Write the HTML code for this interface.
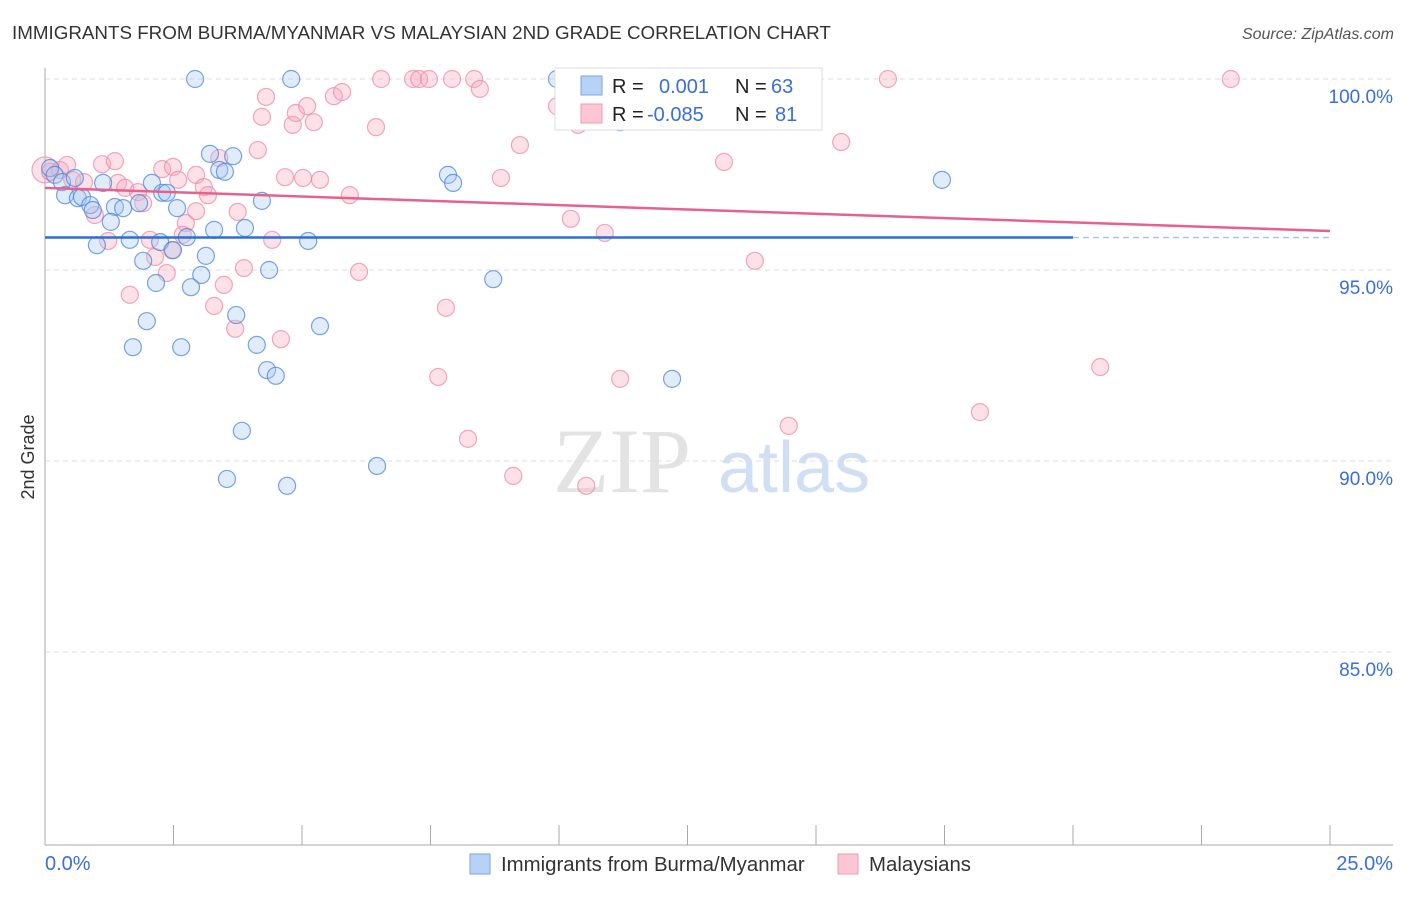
<!DOCTYPE html>
<html><head><meta charset="utf-8"><style>
body{margin:0;background:#fff;font-family:"Liberation Sans",sans-serif;}
</style></head><body>
<svg id="chart" width="1406" height="892" xmlns="http://www.w3.org/2000/svg" style="font-family:'Liberation Sans',sans-serif">
<text x="12" y="39" font-size="18.8" fill="#333">IMMIGRANTS FROM BURMA/MYANMAR VS MALAYSIAN 2ND GRADE CORRELATION CHART</text>
<text x="1394" y="39" font-size="16" fill="#555" text-anchor="end" font-style="italic">Source: ZipAtlas.com</text>
<g>
<text x="553" y="492" font-size="92" fill="#ddd" font-family="Liberation Serif,serif" opacity="0.8">ZIP</text>
<text x="718" y="492" font-size="72" fill="#c5d8f2" opacity="0.8">atlas</text>
</g>
<g id="grid"></g>
<g id="axes"></g>
<g id="marks"></g>
<text transform="translate(34,457) rotate(-90)" font-size="18" fill="#333" text-anchor="middle">2nd Grade</text>
<g>
<rect x="555" y="68" width="267" height="62" fill="#fff" stroke="#ddd"/>
<rect x="581" y="76" width="21" height="19" fill="#b8d2f6" stroke="#7aa6e6"/>
<rect x="581" y="104" width="21" height="19" fill="#fcc6d5" stroke="#ef9ab3"/>
<text x="612" y="93" font-size="20" fill="#222">R = </text>
<text x="659" y="93" font-size="20" fill="#3a6fd8">0.001</text>
<text x="735" y="93" font-size="20" fill="#222">N = </text>
<text x="771" y="93" font-size="20" fill="#3a6fd8">63</text>
<text x="612" y="121" font-size="20" fill="#222">R = </text>
<text x="647" y="121" font-size="20" fill="#3a6fd8">-0.085</text>
<text x="735" y="121" font-size="20" fill="#222">N = </text>
<text x="775" y="121" font-size="20" fill="#3a6fd8">81</text>
</g>
<g>
<rect x="470" y="854" width="20" height="20" fill="#b8d2f6" stroke="#7aa6e6"/>
<text x="501" y="871" font-size="20.4" fill="#333">Immigrants from Burma/Myanmar</text>
<rect x="838" y="854" width="20" height="20" fill="#fcc6d5" stroke="#ef9ab3"/>
<text x="869" y="871" font-size="20.4" fill="#333">Malaysians</text>
</g>
</svg>
<script>
const yTicks=[100,95,90,85];
const yTickLabels=["100.0%","95.0%","90.0%","85.0%"];
const xTickLabels=["0.0%","25.0%"];
const blueX=[2.92,4.79,9.96,11.19,3.21,3.66,3.39,3.50,7.84,7.94,17.45,0.10,0.19,0.33,0.58,1.13,0.39,0.64,0.72,0.88,0.93,1.36,1.52,1.28,2.08,2.28,2.37,1.83,2.57,4.22,1.01,1.65,2.24,2.49,2.76,3.29,3.89,5.12,4.36,3.13,3.04,1.91,2.16,2.84,8.72,3.72,1.98,5.35,1.71,2.65,4.12,4.32,4.49,12.20,3.83,6.46,3.54,4.71];
const blueY=[100,100,100,98.87,98.04,97.98,97.62,97.57,97.49,97.28,97.36,97.67,97.49,97.30,97.41,97.28,96.96,96.88,96.91,96.70,96.57,96.65,96.62,96.26,97.28,97.02,97.02,96.75,96.62,96.81,95.65,95.79,95.73,95.52,95.86,96.05,96.10,95.76,95.00,95.37,94.87,95.24,94.66,94.55,94.76,93.82,93.66,93.53,92.98,92.98,93.04,92.38,92.23,92.15,90.79,89.87,89.53,89.35];
const pinkX=[0,0.10,0.29,0.43,0.53,0.76,1.11,1.36,1.42,1.56,1.81,1.91,2.28,2.49,2.59,2.94,3.09,3.39,3.17,2.94,2.74,2.68,2.47,2.04,2.14,2.37,1.65,1.23,0.97,4.30,4.22,4.14,4.82,4.88,5.10,5.23,5.62,5.78,6.44,6.54,7.16,7.28,7.47,7.92,8.35,8.46,5.93,5.02,5.35,4.67,3.75,4.42,3.87,3.48,3.29,3.70,4.59,6.11,7.80,7.65,8.23,9.11,10.53,8.87,9.24,9.96,10.37,11.52,12.74,14.09,16.40,23.07,10.23,10.89,13.21,15.49,13.81,11.19,14.47,18.19,20.53];
const pinkY=[97.62,97.57,97.62,97.75,97.36,97.30,97.77,97.85,97.28,97.15,97.04,96.75,97.64,97.70,97.36,97.49,97.17,97.93,96.96,96.54,96.23,95.92,95.52,95.79,95.34,94.92,94.35,95.76,96.44,99.53,99.01,98.14,98.80,99.11,99.29,98.87,99.55,99.66,98.74,100,100,100,100,100,100,99.74,96.96,97.41,97.36,97.43,96.52,95.79,95.05,94.61,94.06,93.46,93.19,94.95,94.01,92.20,90.58,89.61,89.35,97.41,98.27,99.29,98.80,100,100,100,100,100,96.34,95.97,97.83,98.35,95.24,92.15,90.92,91.28,92.46];
const blueTrend=[95.85,95.85];
const pinkTrend=[97.15,96.02];
const X0=45,X1=1330,Y100=79,PX_PER=38.2;
const sx=v=>X0+(v/25)*(X1-X0);
const sy=v=>Y100+(100-v)*PX_PER;
const NS="http://www.w3.org/2000/svg";
function mk(tag,attrs,parent){const e=document.createElementNS(NS,tag);for(const k in attrs)e.setAttribute(k,attrs[k]);parent.appendChild(e);return e;}
const grid=document.getElementById('grid'),axes=document.getElementById('axes'),marks=document.getElementById('marks');
yTicks.forEach((t,i)=>{
 const l=mk('line',{x1:X0,x2:1393,y1:sy(t),y2:sy(t),stroke:'#ddd','stroke-dasharray':'5,4'},grid);
 
 
 const tx=mk('text',{x:1393,y:sy(t)+24,'font-size':19,fill:'#3a6fd8','text-anchor':'end'},axes);
 tx.textContent=yTickLabels[i];
 
 
});
const ya=mk('line',{x1:X0,x2:X0,y1:68,y2:845,stroke:'#aaa'},axes);


const xa=mk('line',{x1:X0,x2:1393,y1:845,y2:845,stroke:'#aaa'},axes);


for(let i=0;i<=10;i++){
 const t=mk('line',{x1:sx(i*2.5),x2:sx(i*2.5),y1:825,y2:845,stroke:'#aaa'},axes);
 
 
}
const xl0=mk('text',{x:45,y:870,'font-size':20,fill:'#3a6fd8'},axes);xl0.textContent=xTickLabels[0];


const xl1=mk('text',{x:1393,y:870,'font-size':20,fill:'#3a6fd8','text-anchor':'end'},axes);xl1.textContent=xTickLabels[1];


function dots(xs,ys,fill,stroke,name){
 xs.forEach((x,i)=>{
  const c=mk('circle',{cx:sx(x),cy:sy(ys[i]),r:(name==='malaysian-point'&&i===0)?13:8.5,fill:fill,'fill-opacity':0.35,stroke:stroke,'stroke-opacity':0.75,'stroke-width':1.2},marks);
  
  
 });
}
dots(pinkX,pinkY,'#f7a8bf','#ec8aa8','malaysian-point');
dots(blueX,blueY,'#a9c8f2','#4a86dc','burma-point');
const bt=mk('line',{x1:sx(0),x2:sx(20),y1:sy(blueTrend[0]),y2:sy(blueTrend[0]+(blueTrend[1]-blueTrend[0])*0.8),stroke:'#2d6fd6','stroke-width':2.5},marks);


const bd=mk('line',{x1:sx(20),x2:sx(25),y1:sy(blueTrend[0]+(blueTrend[1]-blueTrend[0])*0.8),y2:sy(blueTrend[1]),stroke:'#a9c4ec','stroke-width':1.5,'stroke-dasharray':'6,4'},marks);


const pt=mk('line',{x1:sx(0),x2:sx(25),y1:sy(pinkTrend[0]),y2:sy(pinkTrend[1]),stroke:'#e8608c','stroke-width':2.5},marks);


</script>
</body></html>
